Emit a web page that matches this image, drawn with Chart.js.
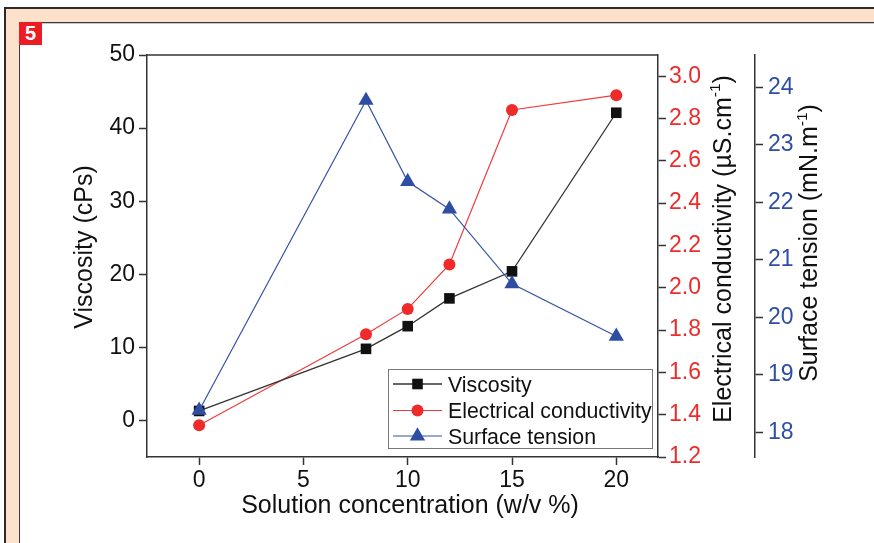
<!DOCTYPE html>
<html><head><meta charset="utf-8">
<script src="https://cdn.jsdelivr.net/npm/chart.js"></script>
<style>
html,body{margin:0;padding:0;width:874px;height:543px;overflow:hidden;background:#fff;}
#outer{position:absolute;left:4px;top:7px;width:870px;height:536px;background:#fde1cb;border-top:2px solid #2b2b2b;border-left:2px solid #2b2b2b;box-sizing:border-box;}
#inner{position:absolute;left:19px;top:22px;width:855px;height:521px;background:#fff;border-top:1.5px solid #3a3a3a;border-left:1.5px solid #3a3a3a;box-shadow:inset 0 1px 0 #c8c8c8;box-sizing:border-box;}
#badge{position:absolute;left:19px;top:22px;width:23px;height:23px;background:#ec1c24;color:#fff;font:bold 20px 'Liberation Sans',Arial,sans-serif;text-align:center;line-height:23px;}
#c{position:absolute;left:0;top:0;}
</style></head>
<body>
<div id="outer"></div><div id="inner"></div><div id="badge">5</div>
<canvas id="c" width="874" height="543"></canvas>
<script>
// ---- data ----
const concentrations = [0, 8, 10, 12, 15, 20];
const viscosity = [1.3, 9.8, 12.9, 16.7, 20.4, 42.1];
const conductivity = [1.35, 1.78, 1.90, 2.11, 2.84, 2.91];
const surfaceTension = [18.38, 23.77, 22.36, 21.88, 20.58, 19.67];
const xTicks = [0, 5, 10, 15, 20];
const viscosityTicks = [0, 10, 20, 30, 40, 50];
const conductivityTicks = [1.2, 1.4, 1.6, 1.8, 2.0, 2.2, 2.4, 2.6, 2.8, 3.0];
const tensionTicks = [18, 19, 20, 21, 22, 23, 24];
const seriesNames = ['Viscosity', 'Electrical conductivity', 'Surface tension'];
const xTitle = 'Solution concentration (w/v %)';
const yTitle = 'Viscosity (cPs)';
const y1Title = ['Electrical conductivity (\u00b5S.cm', '-1', ')'];
const y2Title = ['Surface tension (mN.m', '-1', ')'];

const FF = "'Liberation Sans', Arial, sans-serif";
const BLACK = '#111111', RED = '#ee2b2b', BLUE = '#2e4ea3';
const TICK = 23;
Chart.defaults.font.family = FF;

function pts(ys){ return concentrations.map((x,i)=>({x:x, y:ys[i]})); }
function fixTicks(arr){ return s => { s.ticks = arr.map(v=>({value:v})); }; }

function marker(ctx, style, r, x, y, color){
  ctx.fillStyle = color;
  ctx.beginPath();
  if (style === 'rect'){ const s = Math.SQRT1_2*r; ctx.rect(x-s, y-s, 2*s, 2*s); }
  else if (style === 'circle'){ ctx.arc(x, y, r, 0, Math.PI*2); }
  else { const a=-Math.PI/2; for(let k=0;k<3;k++){ const t=a+k*2*Math.PI/3; const px=x+Math.cos(t)*r, py=y+Math.sin(t)*r; k?ctx.lineTo(px,py):ctx.moveTo(px,py);} ctx.closePath(); }
  ctx.fill();
}

function rich(ctx, parts, x, y, rot, size){
  ctx.save(); ctx.translate(x, y); ctx.rotate(rot);
  ctx.textBaseline = 'alphabetic'; ctx.textAlign = 'left'; ctx.fillStyle = BLACK;
  const items = parts.map((t,i)=>{ const sup = (i===1); ctx.font = (sup? size*0.62 : size) + 'px ' + FF; return {t, sup, w: ctx.measureText(t).width}; });
  const total = items.reduce((a,b)=>a+b.w, 0);
  let cx = -total/2;
  items.forEach(it=>{ ctx.font = (it.sup? size*0.62 : size) + 'px ' + FF; ctx.fillText(it.t, cx, it.sup ? -size*0.42 : 0); cx += it.w; });
  ctx.restore();
}

const decor = {
  id: 'decor',
  afterDraw(chart){
    const ctx = chart.ctx, a = chart.chartArea;
    ctx.save();
    ctx.strokeStyle = '#333'; ctx.lineWidth = 1.5;
    ctx.beginPath(); ctx.moveTo(a.left, a.top); ctx.lineTo(a.right, a.top); ctx.stroke();
    // axis titles
    rich(ctx, [xTitle], 410, 513, 0, 25);
    rich(ctx, [yTitle], 91.5, 247, -Math.PI/2, 25);
    rich(ctx, y1Title, 730.5, 249, -Math.PI/2, 25);
    rich(ctx, y2Title, 817, 243, -Math.PI/2, 25);
    // legend
    const bx = 388.5, by = 369.5, bw = 264, bh = 79;
    ctx.fillStyle = '#fff'; ctx.fillRect(bx, by, bw, bh);
    ctx.strokeStyle = '#777'; ctx.lineWidth = 1; ctx.strokeRect(bx, by, bw, bh);
    const baselines = [391.5, 418, 443.5];
    chart.data.datasets.forEach((ds, i) => {
      const cy = baselines[i] - 7.5;
      ctx.strokeStyle = ds.borderColor; ctx.lineWidth = ds.borderWidth;
      ctx.beginPath(); ctx.moveTo(393, cy); ctx.lineTo(442, cy); ctx.stroke();
      marker(ctx, ds.pointStyle, ds.pointRadius, 417.5, cy, ds.pointBackgroundColor);
      ctx.fillStyle = BLACK; ctx.font = '21.3px ' + FF; ctx.textBaseline = 'alphabetic'; ctx.textAlign = 'left';
      ctx.fillText(ds.label, 448, baselines[i]);
    });
    ctx.restore();
  }
};

const axisCommon = (tickColor) => ({
  grid: { drawOnChartArea: false, drawTicks: true, tickLength: 8, tickColor: '#333', tickWidth: 1.5 },
  border: { display: true, color: '#333', width: 1.5 },
  ticks: { font: { size: TICK }, color: tickColor, padding: 4 }
});

new Chart(document.getElementById('c'), {
  type: 'line',
  data: {
    datasets: [
      { label: seriesNames[0], data: pts(viscosity), yAxisID: 'y', order: 1,
        borderColor: '#333', borderWidth: 1.3, pointStyle: 'rect', pointRadius: 7.5,
        pointBackgroundColor: BLACK, pointBorderColor: BLACK, pointBorderWidth: 0, tension: 0 },
      { label: seriesNames[1], data: pts(conductivity), yAxisID: 'y1', order: 2,
        borderColor: '#f03a3a', borderWidth: 1.2, pointStyle: 'circle', pointRadius: 6,
        pointBackgroundColor: '#ee2a2a', pointBorderColor: '#ee2a2a', pointBorderWidth: 0, tension: 0 },
      { label: seriesNames[2], data: pts(surfaceTension), yAxisID: 'y2', order: 0,
        borderColor: '#3452a8', borderWidth: 1.2, pointStyle: 'triangle', pointRadius: 8.8,
        pointBackgroundColor: BLUE, pointBorderColor: BLUE, pointBorderWidth: 0, tension: 0 }
    ]
  },
  options: {
    responsive: false, animation: false, devicePixelRatio: 1,
    layout: { padding: { top: 55, left: 0, right: 0, bottom: 0 } },
    plugins: { legend: { display: false }, tooltip: { enabled: false } },
    scales: {
      x: Object.assign(axisCommon(BLACK), { type: 'linear', position: 'bottom', min: -2.5, max: 22,
        afterBuildTicks: fixTicks(xTicks), afterFit: s => { s.height = 86; },
        ticks: { font: { size: TICK }, color: BLACK, padding: 2, maxRotation: 0 } }),
      y: Object.assign(axisCommon(BLACK), { position: 'left', min: -5, max: 50,
        afterBuildTicks: fixTicks(viscosityTicks), afterFit: s => { s.width = 147; } }),
      y1: Object.assign(axisCommon(RED), { position: 'right', weight: 0, min: 1.2, max: 3.1,
        afterBuildTicks: fixTicks(conductivityTicks), afterFit: s => { s.width = 97; },
        ticks: { font: { size: TICK }, color: RED, padding: 3, callback: v => Number(v).toFixed(1) } }),
      y2: Object.assign(axisCommon(BLUE), { position: 'right', weight: 1, min: 17.57, max: 24.56,
        afterBuildTicks: fixTicks(tensionTicks), afterFit: s => { s.width = 119; },
        ticks: { font: { size: TICK }, color: BLUE, padding: 5 } })
    }
  },
  plugins: [decor]
});
</script>
</body></html>
